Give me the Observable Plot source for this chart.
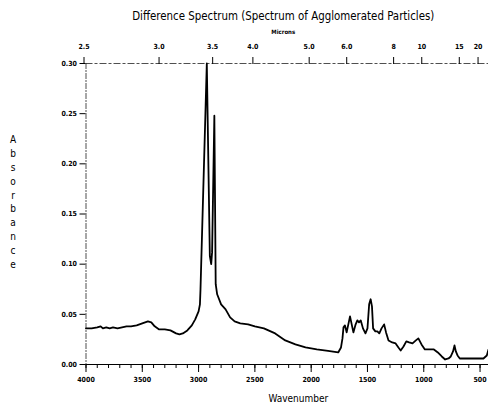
<!DOCTYPE html>
<html>
<head>
<meta charset="utf-8">
<script src="https://cdn.jsdelivr.net/npm/d3@7"></script>
<script src="https://cdn.jsdelivr.net/npm/@observablehq/plot@0.6"></script>
<style>
  html, body { margin: 0; padding: 0; background: #fff; }
  #chart svg { display: block; }
</style>
</head>
<body>
<div id="chart"></div>
<script>
// Spectrum: wavenumber (cm-1) and absorbance
const wavenumber = [4000, 3950, 3900, 3870, 3850, 3820, 3790, 3760, 3720, 3680, 3640, 3600, 3550, 3500, 3450, 3420, 3390, 3350, 3300, 3250, 3200, 3170, 3140, 3100, 3060, 3030, 3000, 2988, 2983, 2927, 2900, 2888, 2880, 2860, 2848, 2835, 2800, 2760, 2720, 2680, 2630, 2560, 2500, 2460, 2420, 2380, 2320, 2230, 2140, 2050, 1950, 1850, 1760, 1735, 1722, 1713, 1700, 1685, 1670, 1655, 1640, 1625, 1605, 1590, 1575, 1560, 1540, 1518, 1500, 1485, 1472, 1460, 1450, 1430, 1412, 1395, 1375, 1352, 1335, 1313, 1280, 1250, 1225, 1205, 1180, 1155, 1130, 1100, 1070, 1048, 1020, 990, 950, 910, 875, 840, 810, 780, 760, 740, 727, 715, 700, 680, 600, 550, 470, 440, 425];
const absorbance = [0.036, 0.036, 0.037, 0.038, 0.036, 0.037, 0.036, 0.037, 0.036, 0.037, 0.038, 0.038, 0.039, 0.041, 0.043, 0.042, 0.038, 0.035, 0.035, 0.034, 0.031, 0.030, 0.031, 0.034, 0.039, 0.045, 0.053, 0.060, 0.075, 0.300, 0.108, 0.100, 0.112, 0.248, 0.080, 0.070, 0.060, 0.055, 0.047, 0.043, 0.041, 0.040, 0.038, 0.037, 0.036, 0.034, 0.031, 0.024, 0.020, 0.017, 0.015, 0.0135, 0.012, 0.017, 0.026, 0.037, 0.039, 0.032, 0.040, 0.048, 0.040, 0.032, 0.040, 0.044, 0.042, 0.044, 0.036, 0.031, 0.036, 0.060, 0.065, 0.058, 0.036, 0.033, 0.033, 0.031, 0.036, 0.040, 0.032, 0.024, 0.022, 0.021, 0.017, 0.014, 0.018, 0.023, 0.022, 0.021, 0.024, 0.026, 0.020, 0.015, 0.015, 0.015, 0.012, 0.008, 0.005, 0.006, 0.008, 0.013, 0.019, 0.013, 0.009, 0.006, 0.006, 0.006, 0.006, 0.009, 0.015];

// Axis ticks
const yTicks = [0, 0.05, 0.10, 0.15, 0.20, 0.25, 0.30];
const xMajorTicks = [4000, 3500, 3000, 2500, 2000, 1500, 1000, 500];
const xMinorTicks = d3.range(4000, 400, -100);
const micronTicks = [2.5, 3.0, 3.5, 4.0, 5.0, 6.0, 8, 10, 15, 20];
const micronLabels = ["2.5", "3.0", "3.5", "4.0", "5.0", "6.0", "8", "10", "15", "20"];

// Text
const title = "Difference Spectrum (Spectrum of Agglomerated Particles)";
const topAxisLabel = "Microns";
const xLabel = "Wavenumber";
const yLabel = "Absorbance";

const spectrum = wavenumber.map((w, i) => ({wn: w, a: absorbance[i]}));
const micronWn = micronTicks.map(m => 10000 / m);
const micronMap = new Map(micronWn.map((w, i) => [w, micronLabels[i]]));

const FONT = "'DejaVu Sans Condensed', 'DejaVu Sans', sans-serif";

const chart = Plot.plot({
  width: 488,
  height: 407,
  marginLeft: 85.5,
  marginRight: 0,
  marginTop: 63,
  marginBottom: 43,
  style: {fontFamily: FONT, color: "#000", background: "#fff"},
  x: {domain: [4000, 425], axis: null},
  y: {domain: [0, 0.30], axis: null},
  marks: [
    // frame lines
    Plot.ruleY([0.30], {stroke: "#222", strokeWidth: 0.8, strokeDasharray: "7,2,3,2"}),
    Plot.ruleX([4000], {stroke: "#222", strokeWidth: 0.8, strokeDasharray: "6,1,2,1"}),
    Plot.ruleY([0], {stroke: "#000", strokeWidth: 1}),
    // left axis
    Plot.axisY(yTicks, {anchor: "left", tickSize: 6, tickPadding: 3, fontSize: 7, fontWeight: "bold", tickFormat: d3.format(".2f"), label: null}),
    // bottom axis
    Plot.axisX(xMinorTicks, {anchor: "bottom", tickSize: 4, tickFormat: () => "", label: null}),
    Plot.axisX(xMajorTicks, {anchor: "bottom", tickSize: 8, tickPadding: 5, fontSize: 7, fontWeight: "bold", tickFormat: d => String(d), label: null}),
    // top micron axis
    Plot.axisX(micronWn, {anchor: "top", tickSize: 7, tickPadding: 8, fontSize: 7, fontWeight: "bold", tickFormat: d => micronMap.get(d), label: null, dx: -2}),
    // spectrum
    Plot.line(spectrum, {x: "wn", y: "a", stroke: "#000", strokeWidth: 1.8, strokeLinejoin: "round"}),
    // texts
    Plot.text([title], {frameAnchor: "top", dy: -52, fontSize: 11.4, dx: -4}),
    Plot.text([topAxisLabel], {frameAnchor: "top", dy: -34, fontSize: 6, fontWeight: "bold", dx: -4}),
    Plot.text([xLabel], {frameAnchor: "bottom", dy: 37, fontSize: 10, dx: 11}),
    Plot.text([yLabel.split("").join("\n")], {frameAnchor: "left", dx: -73, dy: -13, fontSize: 10, lineHeight: 1.38, textAnchor: "middle"})
  ]
});
document.getElementById("chart").append(chart);
</script>
</body>
</html>
